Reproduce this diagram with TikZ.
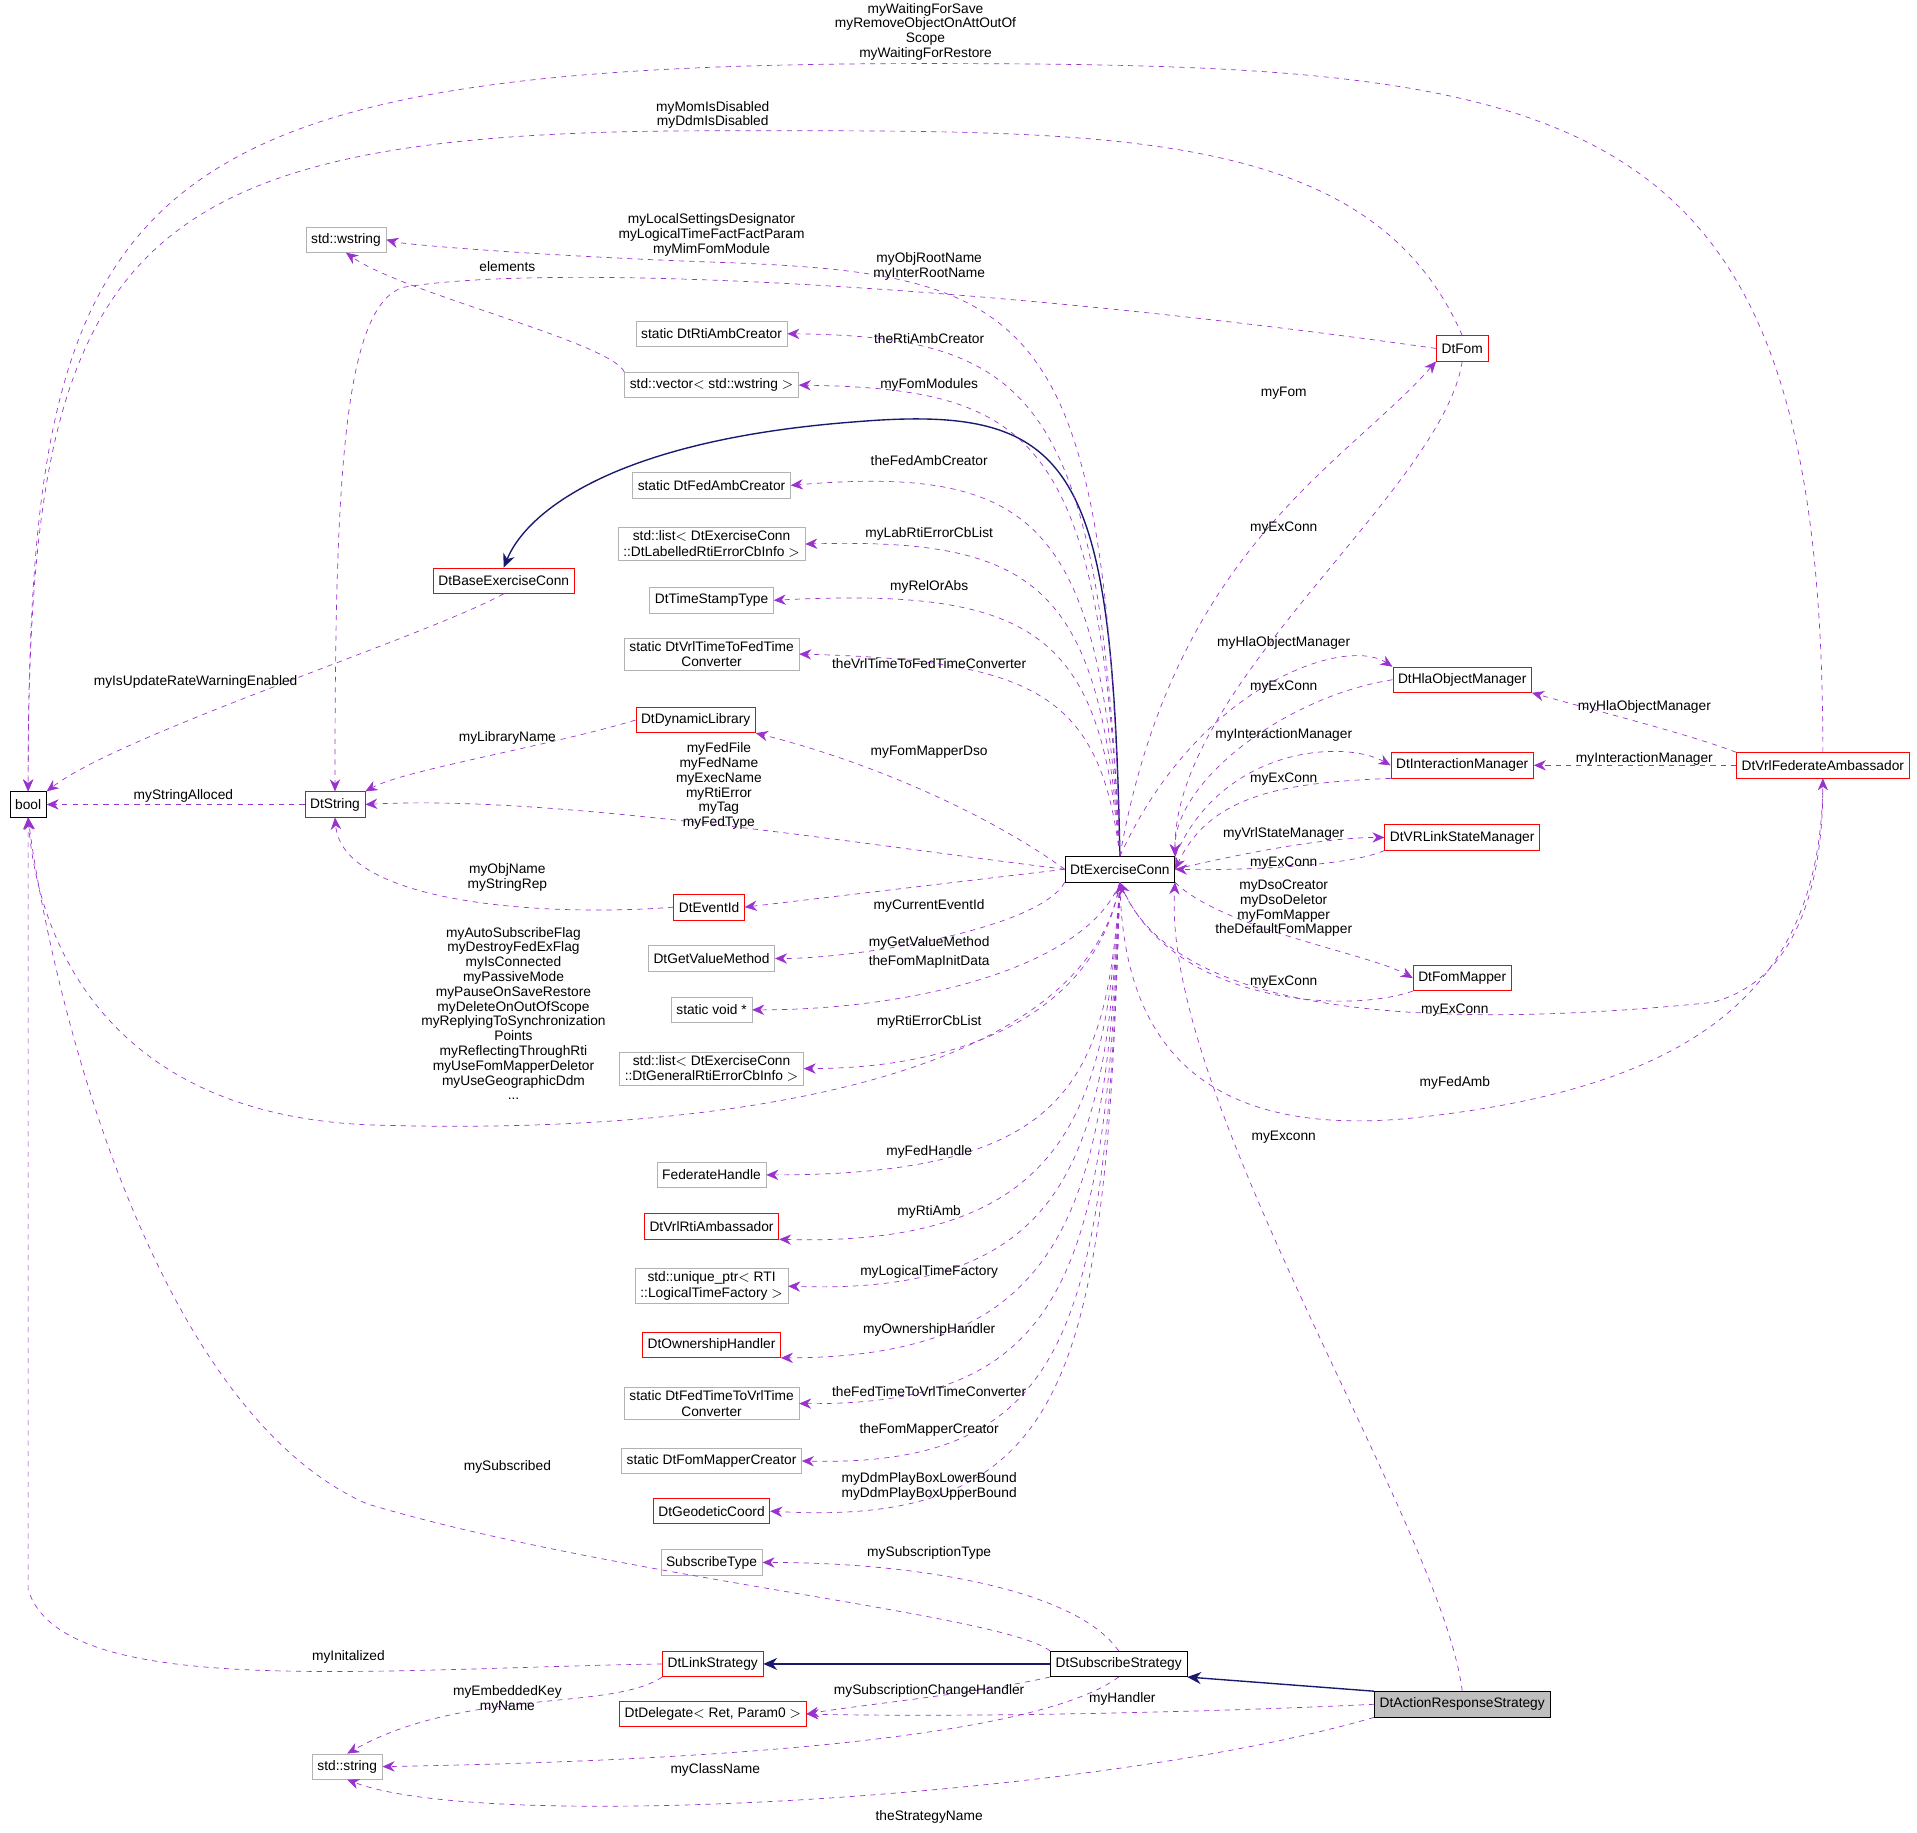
\documentclass[tikz,border=0pt]{standalone}
\usepackage{fontspec}
\setmainfont{Liberation Sans}
\usetikzlibrary{arrows.meta,positioning}
\definecolor{dep}{HTML}{9A32CD}
\definecolor{inh}{HTML}{191970}
\tikzstyle{cls}=[rectangle,draw=black,fill=white,inner xsep=3pt,inner ysep=2pt,minimum height=0.52cm,align=center,font=\fontsize{8}{9}\selectfont]
\tikzstyle{gcls}=[cls,draw=black!30]
\tikzstyle{rcls}=[cls,draw=red]
\tikzstyle{dep}=[draw=dep,dashed,-{Stealth[length=7pt,width=6pt]}]
\tikzstyle{inh}=[draw=inh,thick,-{Stealth[length=8pt,width=7pt]}]
\tikzstyle{lbl}=[align=center,inner sep=0pt,font=\fontsize{8}{8.6}\selectfont]
\begin{document}
\begin{tikzpicture}[x=0.025cm,y=-0.025cm]
            \useasboundingbox (0,0) rectangle (1568,1499);
            % classes, left column
            \node[cls] (bool) at (23,658) {bool};
            \node[rcls] (str) at (274,658) {DtString};
            \node[gcls] (wstr) at (283,196) {std::wstring};
            \node[rcls] (base) at (412,475) {DtBaseExerciseConn};
            \node[gcls] (sstr) at (284,1445) {std::string};

            % classes, middle column
            \node[gcls] (rtiamb) at (582,273) {static DtRtiAmbCreator};
            \node[gcls] (vec) at (582,315) {std::vector$<$ std::wstring $>$};
            \node[gcls] (fedamb) at (582,397) {static DtFedAmbCreator};
            \node[gcls] (lablist) at (582,445) {std::list$<$ DtExerciseConn\\::DtLabelledRtiErrorCbInfo $>$};
            \node[gcls] (stamp) at (582,491) {DtTimeStampType};
            \node[gcls] (vrl2fed) at (582,535) {static DtVrlTimeToFedTime\\Converter};
            \node[rcls] (dynlib) at (569,589) {DtDynamicLibrary};
            \node[rcls] (evid) at (580,742) {DtEventId};
            \node[gcls] (getval) at (582,784) {DtGetValueMethod};
            \node[gcls] (voidp) at (582,826) {static void *};
            \node[gcls] (genlist) at (582,874) {std::list$<$ DtExerciseConn\\::DtGeneralRtiErrorCbInfo $>$};
            \node[gcls] (fedh) at (582,961) {FederateHandle};
            \node[rcls] (rtiamb2) at (582,1003) {DtVrlRtiAmbassador};
            \node[gcls] (uptr) at (582,1052) {std::unique\_ptr$<$ RTI\\::LogicalTimeFactory $>$};
            \node[rcls] (own) at (582,1100) {DtOwnershipHandler};
            \node[gcls] (fed2vrl) at (582,1148) {static DtFedTimeToVrlTime\\Converter};
            \node[gcls] (mapcr) at (582,1195) {static DtFomMapperCreator};
            \node[rcls] (geo) at (582,1236) {DtGeodeticCoord};
            \node[gcls] (subtype) at (582,1278) {SubscribeType};
            \node[rcls] (link) at (583,1361) {DtLinkStrategy};
            \node[rcls] (deleg) at (583,1402) {DtDelegate$<$ Ret, Param0 $>$};

            % classes, right part
            \node[cls] (ec) at (916,711) {DtExerciseConn};
            \node[cls] (sub) at (915,1361) {DtSubscribeStrategy};
            \node[cls,fill=black!25] (ars) at (1196,1394) {DtActionResponseStrategy};
            \node[rcls] (fom) at (1196,285) {DtFom};
            \node[rcls] (hla) at (1196,556) {DtHlaObjectManager};
            \node[rcls] (inter) at (1196,626) {DtInteractionManager};
            \node[rcls] (vrls) at (1196,685) {DtVRLinkStateManager};
            \node[rcls] (mapper) at (1196,800) {DtFomMapper};
            \node[rcls] (vfed) at (1491,626) {DtVrlFederateAmbassador};

            % inheritance
            \path[inh] (ec.north) .. controls (910,380) and (880,330) .. (700,345) .. controls (500,360) and (430,420) .. (base.north);
            \path[inh] (sub.west) -- (link.east);
            \path[inh] (ars.north west) -- (sub.south east);

            % members of DtExerciseConn
            \path[dep] (ec.north) .. controls (905,260) and (850,225) .. (600,215) .. controls (450,210) and (330,200) .. (wstr.east);
            \path[dep] (ec.north) .. controls (900,330) and (850,275) .. (rtiamb.east);
            \path[dep] (ec.north) .. controls (900,360) and (850,318) .. (vec.east);
            \path[dep] (ec.north) .. controls (900,430) and (850,380) .. (fedamb.east);
            \path[dep] (ec.north) .. controls (900,480) and (850,440) .. (lablist.east);
            \path[dep] (ec.north) .. controls (900,520) and (850,480) .. (stamp.east);
            \path[dep] (ec.north) .. controls (900,570) and (850,540) .. (vrl2fed.east);
            \path[dep] (ec.west) .. controls (800,660) and (700,620) .. (dynlib.south east);
            \path[dep] (ec.west) .. controls (700,690) and (450,650) .. (str.east);
            \path[dep] (ec.west) -- (evid.east);
            \path[dep] (ec.south west) .. controls (850,760) and (700,784) .. (getval.east);
            \path[dep] (ec.south) .. controls (890,790) and (750,826) .. (voidp.east);
            \path[dep] (ec.south) .. controls (900,820) and (800,874) .. (genlist.east);
            \path[dep] (ec.south) .. controls (890,880) and (600,930) .. (300,920) .. controls (80,910) and (30,760) .. (bool.south);
            \path[dep] (ec.south) .. controls (905,880) and (880,961) .. (fedh.east);
            \path[dep] (ec.south) .. controls (905,900) and (880,1020) .. (rtiamb2.south east);
            \path[dep] (ec.south) .. controls (905,940) and (880,1060) .. (uptr.east);
            \path[dep] (ec.south) .. controls (905,980) and (880,1110) .. (own.south east);
            \path[dep] (ec.south) .. controls (905,1030) and (880,1150) .. (fed2vrl.east);
            \path[dep] (ec.south) .. controls (905,1080) and (880,1200) .. (mapcr.east);
            \path[dep] (ec.south) .. controls (905,1120) and (880,1250) .. (geo.east);

            % other left-side members
            \path[dep] (vec.north west) .. controls (500,280) and (330,240) .. (wstr.south);
            \path[dep] (fom.west) .. controls (800,232) and (450,215) .. (330,235) .. controls (280,250) and (274,400) .. (str.north);
            \path[dep] (fom.north) .. controls (1120,100) and (900,107) .. (583,107) .. controls (100,107) and (23,200) .. (bool.north);
            \path[dep] (vfed.north) .. controls (1491,80) and (1300,52) .. (757,52) .. controls (100,52) and (23,150) .. (bool.north);
            \path[dep] (dynlib.west) .. controls (450,610) and (330,630) .. (str.north east);
            \path[dep] (base.south) .. controls (350,520) and (100,600) .. (bool.north east);
            \path[dep] (str.west) -- (bool.east);
            \path[dep] (evid.west) .. controls (450,750) and (280,740) .. (str.south);

            % strategies
            \path[dep] (sub.north) .. controls (880,1300) and (750,1278) .. (subtype.east);
            \path[dep] (sub.north west) .. controls (820,1320) and (500,1290) .. (300,1230) .. controls (120,1150) and (40,800) .. (bool.south);
            \path[dep] (link.west) .. controls (300,1365) and (50,1390) .. (23,1300) -- (bool.south);
            \path[dep] (link.south west) .. controls (500,1400) and (380,1380) .. (sstr.north);
            \path[dep] (sub.south west) .. controls (800,1385) and (700,1395) .. (deleg.east);
            \path[dep] (ars.west) .. controls (1000,1400) and (800,1405) .. (deleg.east);
            \path[dep] (sub.south) .. controls (850,1420) and (600,1440) .. (sstr.east);
            \path[dep] (ars.south west) .. controls (900,1470) and (400,1500) .. (sstr.south);
            \path[dep] (ars.north) .. controls (1180,1250) and (950,900) .. (ec.south east);

            % right side
            \path[dep] (ec.north) .. controls (960,450) and (1100,380) .. (fom.south west);
            \path[dep] (fom.south) .. controls (1180,400) and (960,560) .. (ec.north east);
            \path[dep] (ec.north) .. controls (980,560) and (1100,520) .. (hla.north west);
            \path[dep] (hla.west) .. controls (1050,570) and (960,640) .. (ec.north east);
            \path[dep] (ec.north east) .. controls (1000,610) and (1100,605) .. (inter.west);
            \path[dep] (inter.south west) .. controls (1050,640) and (990,650) .. (ec.east);
            \path[dep] (ec.east) .. controls (1050,690) and (1100,685) .. (vrls.west);
            \path[dep] (vrls.south west) .. controls (1100,710) and (1000,712) .. (ec.east);
            \path[dep] (ec.south east) .. controls (1000,760) and (1120,780) .. (mapper.west);
            \path[dep] (mapper.south west) .. controls (1100,830) and (960,820) .. (ec.south);
            \path[dep] (ec.south) .. controls (960,840) and (1200,840) .. (1400,820) .. controls (1480,800) and (1491,700) .. (vfed.south);
            \path[dep] (vfed.south) .. controls (1491,800) and (1400,890) .. (1150,915) .. controls (980,930) and (920,850) .. (ec.south);
            \path[dep] (vfed.north west) .. controls (1380,600) and (1300,580) .. (hla.south east);
            \path[dep] (vfed.west) -- (inter.east);

            % labels
            \node[lbl] (l1) at (757,26) {myWaitingForSave\\myRemoveObjectOnAttOutOf\\Scope\\myWaitingForRestore};
            \node[lbl] (l2) at (583,94) {myMomIsDisabled\\myDdmIsDisabled};
            \node[lbl] (l3) at (582,192) {myLocalSettingsDesignator\\myLogicalTimeFactFactParam\\myMimFomModule};
            \node[lbl] (l4) at (415,218) {elements};
            \node[lbl] (l5) at (760,218) {myObjRootName\\myInterRootName};
            \node[lbl] (l6) at (760,277) {theRtiAmbCreator};
            \node[lbl] (l7) at (760,315) {myFomModules};
            \node[lbl] (l8) at (760,377) {theFedAmbCreator};
            \node[lbl] (l9) at (760,437) {myLabRtiErrorCbList};
            \node[lbl] (l10) at (760,480) {myRelOrAbs};
            \node[lbl] (l11) at (760,543) {theVrlTimeToFedTimeConverter};
            \node[lbl] (l12) at (760,615) {myFomMapperDso};
            \node[lbl] (l13) at (415,604) {myLibraryName};
            \node[lbl] (l14) at (160,558) {myIsUpdateRateWarningEnabled};
            \node[lbl] (l15) at (150,651) {myStringAlloced};
            \node[lbl] (l16) at (588,643) {myFedFile\\myFedName\\myExecName\\myRtiError\\myTag\\myFedType};
            \node[lbl] (l17) at (415,718) {myObjName\\myStringRep};
            \node[lbl] (l18) at (760,741) {myCurrentEventId};
            \node[lbl] (l19) at (760,771) {myGetValueMethod};
            \node[lbl] (l20) at (420,829) {myAutoSubscribeFlag\\myDestroyFedExFlag\\myIsConnected\\myPassiveMode\\myPauseOnSaveRestore\\myDeleteOnOutOfScope\\myReplyingToSynchronization\\Points\\myReflectingThroughRti\\myUseFomMapperDeletor\\myUseGeographicDdm\\...};
            \node[lbl] (l21) at (760,787) {theFomMapInitData};
            \node[lbl] (l22) at (760,836) {myRtiErrorCbList};
            \node[lbl] (l23) at (760,942) {myFedHandle};
            \node[lbl] (l24) at (760,991) {myRtiAmb};
            \node[lbl] (l25) at (760,1040) {myLogicalTimeFactory};
            \node[lbl] (l26) at (760,1088) {myOwnershipHandler};
            \node[lbl] (l27) at (760,1138) {theFedTimeToVrlTimeConverter};
            \node[lbl] (l28) at (760,1170) {theFomMapperCreator};
            \node[lbl] (l29) at (760,1216) {myDdmPlayBoxLowerBound\\myDdmPlayBoxUpperBound};
            \node[lbl] (l30) at (760,1270) {mySubscriptionType};
            \node[lbl] (l31) at (415,1200) {mySubscribed};
            \node[lbl] (l32) at (285,1355) {myInitalized};
            \node[lbl] (l33) at (415,1390) {myEmbeddedKey\\myName};
            \node[lbl] (l34) at (760,1383) {mySubscriptionChangeHandler};
            \node[lbl] (l35) at (918,1390) {myHandler};
            \node[lbl] (l36) at (585,1448) {myClassName};
            \node[lbl] (l37) at (760,1486) {theStrategyName};
            \node[lbl] (l38) at (1050,930) {myExconn};
            \node[lbl] (l39) at (1050,322) {myFom};
            \node[lbl] (l40) at (1050,432) {myExConn};
            \node[lbl] (l41) at (1050,526) {myHlaObjectManager};
            \node[lbl] (l42) at (1050,562) {myExConn};
            \node[lbl] (l43) at (1050,601) {myInteractionManager};
            \node[lbl] (l44) at (1050,637) {myExConn};
            \node[lbl] (l45) at (1050,682) {myVrlStateManager};
            \node[lbl] (l46) at (1050,706) {myExConn};
            \node[lbl] (l47) at (1050,743) {myDsoCreator\\myDsoDeletor\\myFomMapper\\theDefaultFomMapper};
            \node[lbl] (l48) at (1050,803) {myExConn};
            \node[lbl] (l49) at (1190,826) {myExConn};
            \node[lbl] (l50) at (1190,886) {myFedAmb};
            \node[lbl] (l51) at (1345,578) {myHlaObjectManager};
            \node[lbl] (l52) at (1345,621) {myInteractionManager};
        \end{tikzpicture}
\end{document}
